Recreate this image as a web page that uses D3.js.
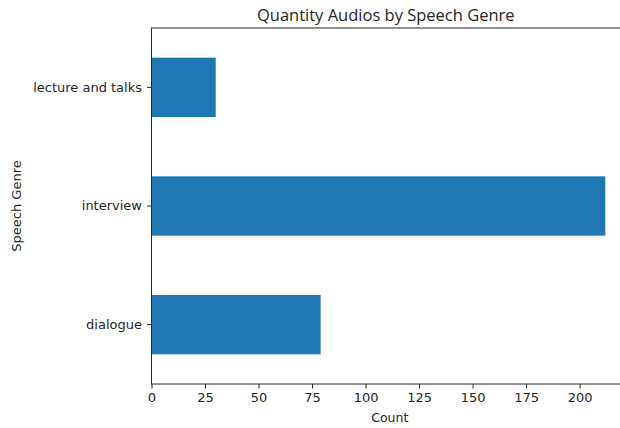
<!DOCTYPE html>
<html>
<head>
<meta charset="utf-8">
<script src="https://cdn.jsdelivr.net/npm/d3@7"></script>
<style>
    body { margin: 0; background: #fff; }
    .tick text { font-family: "DejaVu Sans", sans-serif; font-size: 13px; fill: #262626; }
    .domain, .tick line { stroke: #262626; }
</style>
</head>
<body>
<div class="chart-container"></div>
<script>
const genres = ["dialogue", "interview", "lecture and talks"];
const counts = [79, 212, 30];
const xTicks = [0, 25, 50, 75, 100, 125, 150, 175, 200];

const w = 620;
const h = 428;
const padLeft = 151.5, padRight = 628, padTop = 28, padBottom = 384;

const svg = d3.select(".chart-container")
    .append("svg")
    .attr("width", w)
    .attr("height", h);

const xScale = d3.scaleLinear()
    .domain([0, d3.max(counts) * 1.05])
    .range([padLeft, padRight]);

const yScale = d3.scaleBand()
    .domain(genres)
    .range([padBottom, padTop])
    .paddingInner(0.5)
    .paddingOuter(0.25);

svg.selectAll("rect.bar")
    .data(genres)
    .enter()
    .append("rect")
    .attr("class", "bar")
    .attr("x", xScale(0))
    .attr("y", (d) => yScale(d))
    .attr("width", (d, i) => xScale(counts[i]) - xScale(0))
    .attr("height", yScale.bandwidth())
    .attr("fill", "#1f77b4");

// frame
svg.append("rect")
    .attr("x", padLeft)
    .attr("y", padTop)
    .attr("width", padRight - padLeft)
    .attr("height", padBottom - padTop)
    .attr("fill", "none")
    .attr("stroke", "#262626")
    .attr("stroke-width", 1);

svg.append("g")
    .attr("transform", `translate(0,${padBottom})`)
    .call(d3.axisBottom(xScale).tickValues(xTicks).tickSize(4.5).tickPadding(4).tickSizeOuter(0))
    .call((g) => g.select(".domain").remove());

svg.append("g")
    .attr("transform", `translate(${padLeft},0)`)
    .call(d3.axisLeft(yScale).tickSize(4.5).tickPadding(5).tickSizeOuter(0))
    .call((g) => g.select(".domain").remove());

svg.append("text")
    .attr("x", (padLeft + padRight) / 2 - 4)
    .attr("y", 21)
    .attr("text-anchor", "middle")
    .style("font-family", "'Open Sans', sans-serif")
    .style("font-size", "16.5px")
    .style("fill", "#262626")
    .text("Quantity Audios by Speech Genre");

svg.append("text")
    .attr("x", (padLeft + padRight) / 2)
    .attr("y", 422)
    .attr("text-anchor", "middle")
    .style("font-family", "'DejaVu Sans', sans-serif")
    .style("font-size", "12.5px")
    .style("fill", "#262626")
    .text("Count");

svg.append("text")
    .attr("transform", `translate(21,${(padTop + padBottom) / 2}) rotate(-90)`)
    .attr("text-anchor", "middle")
    .style("font-family", "'DejaVu Sans', sans-serif")
    .style("font-size", "13px")
    .style("fill", "#262626")
    .text("Speech Genre");
</script>
</body>
</html>
